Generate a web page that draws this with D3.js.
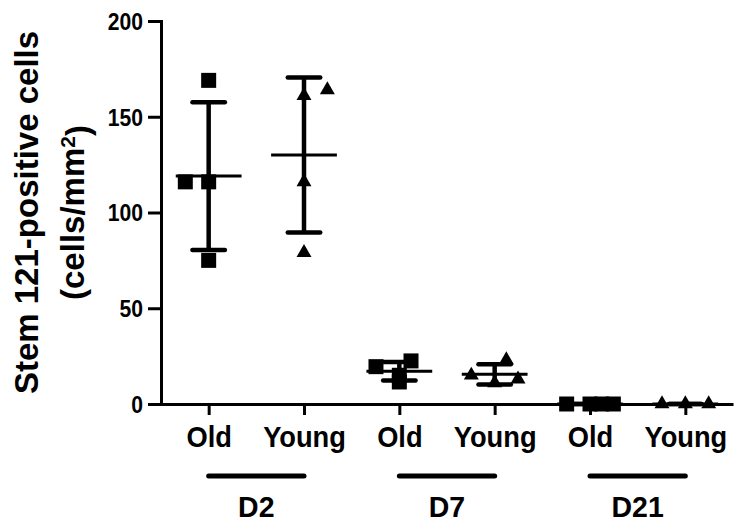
<!DOCTYPE html>
<html>
<head>
<meta charset="utf-8">
<script src="https://cdn.jsdelivr.net/npm/d3@7"></script>
<style>
  html, body { margin: 0; padding: 0; background: #fff; }
  svg { display: block; }
  text { font-family: "Liberation Sans", Arial, Helvetica, sans-serif; font-weight: bold; fill: #000; }
</style>
</head>
<body>
<svg id="chart" width="737" height="522"></svg>
<script>
// Stem 121-positive cell density per animal, by age and day
const days = ["D2", "D7", "D21"];
const ages = ["Old", "Young"];
const yTicks = [0, 50, 100, 150, 200];

const d2Old   = [169, 116, 116, 75];
const d2Young = [161, 164, 116, 79];
const d7Old   = [22.5, 19.5, 11.5, 15];
const d7Young = [23, 15, 11, 13];
const d21Old  = [0, 0, 0, 0];
const d21Young = [0, 0, 0];

// horizontal scatter slot of each point inside its column (in point-widths)
const d2OldSpread   = [0, -1, 0, 0];
const d2YoungSpread = [0, 1, 0, 0];
const d7OldSpread   = [0.5, -1, 0, 0];
const d7YoungSpread = [0.5, -1, 0, 1];
const d21OldSpread  = [-1, 0, 0.5, 1];
const d21YoungSpread = [-1, 0, 1];

const columns = [
  { day: "D2",  age: "Old",   values: d2Old,   spread: d2OldSpread },
  { day: "D2",  age: "Young", values: d2Young, spread: d2YoungSpread },
  { day: "D7",  age: "Old",   values: d7Old,   spread: d7OldSpread },
  { day: "D7",  age: "Young", values: d7Young, spread: d7YoungSpread },
  { day: "D21", age: "Old",   values: d21Old,  spread: d21OldSpread },
  { day: "D21", age: "Young", values: d21Young, spread: d21YoungSpread }
].map(c => {
  const mean = d3.mean(c.values);
  const sd = c.values.length > 1 ? d3.deviation(c.values) : 0;
  return { ...c, key: c.day + "-" + c.age, mean, sd };
});

const svg = d3.select("#chart");
const plot = { left: 161, right: 733, top: 21, bottom: 404 };

const x = d3.scalePoint()
  .domain(columns.map(c => c.key))
  .range([plot.left, plot.right])
  .padding(0.5);

const y = d3.scaleLinear()
  .domain([0, 200])
  .range([plot.bottom, plot.top]);

const step = x.step();
const slot = d3.scaleLinear().domain([-1, 1]).range([-step * 0.245, step * 0.245]);

// y axis
const yAxis = svg.append("g")
  .attr("transform", `translate(${plot.left},0)`)
  .call(d3.axisLeft(y).tickValues(yTicks).tickSize(13).tickSizeOuter(0).tickPadding(5));
yAxis.select(".domain").attr("stroke-width", 3).attr("stroke-linecap", "square");
yAxis.selectAll(".tick line").attr("stroke-width", 3);
yAxis.selectAll(".tick text")
  .style("font-size", "23px")
  .attr("x", 0)
  .attr("dy", "0.36em")
  .attr("transform", "translate(-18,0) scale(0.92,1)");

// x axis
const xAxis = svg.append("g")
  .attr("transform", `translate(0,${plot.bottom})`)
  .call(d3.axisBottom(x).tickSize(11).tickSizeOuter(0)
    .tickFormat(k => columns.find(c => c.key === k).age));
xAxis.select(".domain").attr("stroke-width", 3);
xAxis.selectAll(".tick line").attr("stroke-width", 3);
xAxis.selectAll(".tick text")
  .style("font-size", "29px")
  .attr("dy", null)
  .attr("y", 43)
  .attr("transform", "scale(0.94,1)");

// y axis title
const midY = (plot.top + plot.bottom) / 2;
svg.append("text")
  .attr("transform", `translate(38,${midY}) rotate(-90)`)
  .attr("text-anchor", "middle")
  .style("font-size", "33px")
  .text("Stem 121-positive cells");
const yTitle2 = svg.append("text")
  .attr("transform", `translate(84,${midY}) rotate(-90)`)
  .attr("text-anchor", "middle")
  .style("font-size", "33px");
yTitle2.append("tspan").text("(cells/mm");
yTitle2.append("tspan").attr("dy", "-0.45em").style("font-size", "21px").text("2");
yTitle2.append("tspan").attr("dy", "0.45em").text(")");

// day grouping bars and labels
days.forEach(day => {
  const cols = columns.filter(c => c.day === day);
  const x0 = x(cols[0].key), x1 = x(cols[cols.length - 1].key);
  svg.append("line")
    .attr("x1", x0).attr("x2", x1)
    .attr("y1", 476).attr("y2", 476)
    .attr("stroke", "#000").attr("stroke-width", 5)
    .attr("stroke-linecap", "round");
  svg.append("text")
    .attr("transform", `translate(${(x0 + x1) / 2},517) scale(0.95,1)`)
    .attr("text-anchor", "middle")
    .style("font-size", "30px")
    .text(day);
});

// points
const square = d3.symbol(d3.symbolSquare, 225);
const triangle = d3.symbol(d3.symbolTriangle, 97);

columns.forEach(c => {
  const cx = x(c.key);
  const g = svg.append("g");
  g.selectAll("path.pt")
    .data(c.values.map((v, i) => ({ v, s: c.spread[i] })))
    .join("path")
    .attr("class", "pt")
    .attr("d", c.age === "Old" ? square : triangle)
    .attr("transform", d => `translate(${cx + slot(d.s)},${y(d.v)})`)
    .attr("fill", "#000");

  // mean and SD bars
  const capHalf = step * 0.17;
  const meanHalf = step * 0.345;
  g.append("line")
    .attr("x1", cx).attr("x2", cx)
    .attr("y1", y(c.mean + c.sd)).attr("y2", y(c.mean - c.sd))
    .attr("stroke", "#000").attr("stroke-width", 4.5);
  [c.mean + c.sd, c.mean - c.sd].forEach(v => {
    g.append("line")
      .attr("x1", cx - capHalf).attr("x2", cx + capHalf)
      .attr("y1", y(v)).attr("y2", y(v))
      .attr("stroke", "#000").attr("stroke-width", 4.5)
      .attr("stroke-linecap", "round");
  });
  g.append("line")
    .attr("x1", cx - meanHalf).attr("x2", cx + meanHalf)
    .attr("y1", y(c.mean)).attr("y2", y(c.mean))
    .attr("stroke", "#000").attr("stroke-width", 3);
});
</script>
</body>
</html>
